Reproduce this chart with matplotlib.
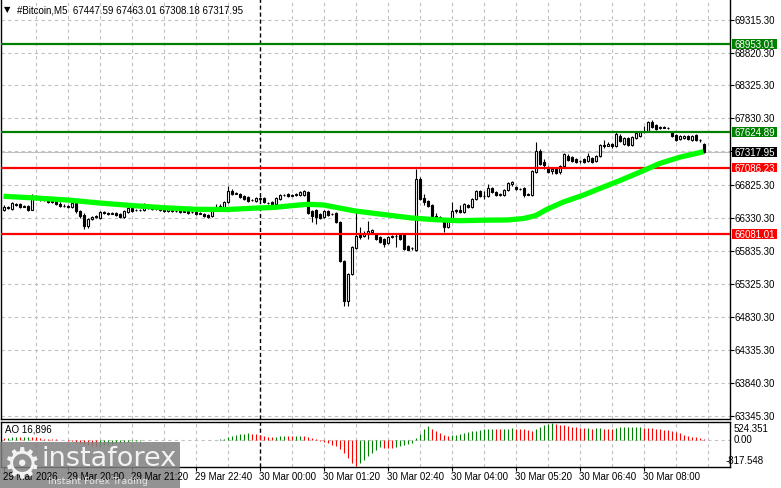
"""MT4-style #Bitcoin M5 chart: candles, MA, support/resistance levels, AO sub-window."""
import numpy as np
import matplotlib
matplotlib.use("Agg")
import matplotlib.pyplot as plt
from matplotlib.patches import Rectangle

W, H = 781, 489
FONT = "Liberation Sans"
FS = 7.0

# ---- data (5-min bars, 29 Mar 18:40 -> 30 Mar 09:15) ----
opens = [
    66446, 66491, 66461, 66537, 66537, 66491, 66507, 66446, 66657, 66627,
    66612, 66597, 66567, 66582, 66537, 66507, 66507, 66491, 66552, 66431,
    66371, 66205, 66311, 66341, 66326, 66416, 66401, 66386, 66401, 66386,
    66341, 66416, 66476, 66446, 66446, 66446, 66491, 66476, 66461, 66461,
    66461, 66431, 66446, 66431, 66431, 66416, 66446, 66416, 66416, 66386,
    66386, 66371, 66356, 66476, 66491, 66476, 66567, 66733, 66688, 66688,
    66657, 66642, 66597, 66582, 66615, 66627, 66552, 66567, 66537, 66612,
    66672, 66688, 66657, 66672, 66672, 66672, 66718, 66431, 66446, 66386,
    66341, 66431, 66386, 66401, 66265, 65677, 65075, 65481, 65873, 66069,
    66054, 66084, 66115, 66084, 66039, 66009, 65949, 66039, 66054, 66069,
    66084, 65904, 65873, 65843, 66914, 66627, 66582, 66522, 66356, 66341,
    66280, 66190, 66311, 66431, 66446, 66416, 66522, 66491, 66612, 66733,
    66657, 66657, 66778, 66718, 66672, 66672, 66748, 66838, 66793, 66763,
    66778, 66688, 66672, 67019, 67336, 67170, 67095, 67034, 67064, 67019,
    67110, 67260, 67245, 67215, 67185, 67215, 67185, 67230, 67185, 67260,
    67426, 67411, 67441, 67411, 67562, 67441, 67532, 67426, 67532, 67562,
    67622, 67637, 67773, 67728, 67683, 67698, 67683, 67622, 67577, 67517,
    67532, 67562, 67502, 67577, 67502, 67447.59]
highs = [
    66522, 66507, 66567, 66552, 66552, 66522, 66522, 66688, 66672, 66642,
    66627, 66612, 66597, 66597, 66567, 66537, 66522, 66582, 66567, 66446,
    66401, 66326, 66356, 66371, 66431, 66431, 66416, 66416, 66416, 66401,
    66446, 66491, 66491, 66461, 66461, 66552, 66507, 66491, 66476, 66476,
    66476, 66476, 66461, 66446, 66446, 66446, 66461, 66431, 66431, 66416,
    66401, 66386, 66476, 66537, 66537, 66582, 66808, 66763, 66718, 66703,
    66672, 66657, 66612, 66642, 66642, 66642, 66567, 66582, 66642, 66688,
    66688, 66703, 66688, 66703, 66733, 66748, 66733, 66446, 66461, 66401,
    66446, 66446, 66401, 66416, 66280, 65692, 65496, 65904, 66416, 66190,
    66130, 66280, 66160, 66100, 66054, 66024, 66054, 66069, 66084, 66084,
    66100, 65919, 65888, 67064, 66944, 66688, 66597, 66537, 66401, 66356,
    66311, 66326, 66567, 66461, 66522, 66552, 66537, 66627, 66748, 66748,
    66733, 66838, 66793, 66733, 66703, 66763, 66868, 66884, 66808, 66778,
    66793, 66703, 67049, 67472, 67366, 67215, 67110, 67080, 67080, 67125,
    67306, 67291, 67260, 67230, 67200, 67230, 67306, 67245, 67276, 67441,
    67502, 67472, 67456, 67622, 67592, 67547, 67547, 67562, 67622, 67637,
    67713, 67788, 67803, 67743, 67713, 67713, 67698, 67637, 67592, 67577,
    67577, 67577, 67577, 67592, 67517, 67463.01]
lows = [
    66431, 66461, 66446, 66507, 66476, 66491, 66431, 66446, 66597, 66582,
    66582, 66552, 66552, 66522, 66491, 66491, 66476, 66476, 66401, 66326,
    66160, 66175, 66295, 66326, 66311, 66386, 66371, 66386, 66356, 66326,
    66326, 66401, 66416, 66431, 66431, 66431, 66461, 66446, 66446, 66431,
    66416, 66416, 66416, 66416, 66401, 66416, 66386, 66401, 66371, 66386,
    66341, 66326, 66341, 66461, 66476, 66461, 66552, 66672, 66688, 66627,
    66597, 66567, 66582, 66567, 66597, 66552, 66537, 66522, 66522, 66597,
    66657, 66642, 66657, 66657, 66657, 66657, 66386, 66265, 66235, 66311,
    66326, 66356, 66371, 66250, 65662, 64999, 64999, 65466, 65858, 66009,
    66039, 66009, 66100, 65994, 65949, 65888, 65934, 66024, 65888, 65994,
    65843, 65843, 65843, 65828, 66597, 66522, 66491, 66341, 66311, 66295,
    66115, 66175, 66295, 66401, 66401, 66401, 66476, 66476, 66597, 66642,
    66612, 66642, 66703, 66657, 66657, 66657, 66733, 66808, 66748, 66748,
    66642, 66672, 66657, 67004, 67125, 67064, 67004, 66989, 66989, 66989,
    67095, 67185, 67170, 67155, 67155, 67155, 67170, 67155, 67170, 67245,
    67381, 67411, 67381, 67396, 67472, 67426, 67411, 67411, 67517, 67547,
    67607, 67622, 67683, 67652, 67668, 67683, 67668, 67547, 67487, 67502,
    67517, 67502, 67487, 67487, 67472, 67308.18]
closes = [
    66491, 66476, 66552, 66522, 66491, 66507, 66446, 66657, 66627, 66612,
    66597, 66567, 66582, 66537, 66507, 66500, 66491, 66552, 66431, 66356,
    66205, 66311, 66341, 66356, 66416, 66401, 66386, 66401, 66371, 66341,
    66431, 66476, 66431, 66440, 66450, 66491, 66476, 66461, 66455, 66446,
    66431, 66461, 66431, 66425, 66416, 66431, 66401, 66410, 66386, 66401,
    66356, 66341, 66461, 66491, 66507, 66567, 66733, 66688, 66703, 66642,
    66612, 66582, 66590, 66627, 66630, 66567, 66545, 66537, 66627, 66672,
    66668, 66657, 66672, 66688, 66718, 66733, 66401, 66356, 66341, 66326,
    66431, 66371, 66380, 66265, 65677, 65075, 65481, 65888, 66054, 66039,
    66084, 66130, 66145, 66009, 65964, 65934, 66039, 66054, 66048, 66009,
    65858, 65850, 65868, 66914, 66612, 66567, 66507, 66356, 66341, 66326,
    66190, 66311, 66431, 66446, 66416, 66537, 66491, 66612, 66733, 66657,
    66650, 66778, 66718, 66672, 66688, 66748, 66853, 66868, 66763, 66758,
    66672, 66680, 67034, 67336, 67140, 67125, 67019, 67064, 67004, 67110,
    67291, 67200, 67185, 67170, 67180, 67170, 67260, 67170, 67260, 67426,
    67411, 67441, 67411, 67592, 67487, 67532, 67426, 67547, 67607, 67622,
    67615, 67773, 67698, 67668, 67698, 67690, 67676, 67562, 67502, 67562,
    67565, 67517, 67562, 67502, 67495, 67317.95]

# moving average (green line), read at these bar positions
ma_idx = [0, 8, 16, 24, 32, 40, 48, 56, 62, 68, 72, 76, 80, 84, 88, 96, 102, 108,
          114, 120, 126, 130, 133, 136, 140, 145, 150, 154, 159, 164, 169, 175]
ma_vals = [66653, 66627, 66597, 66552, 66514, 66481, 66457, 66454, 66472, 66487,
           66511, 66532, 66522, 66476, 66431, 66371, 66326, 66300, 66285, 66293,
           66296, 66318, 66361, 66461, 66567, 66672, 66793, 66888, 67015, 67147,
           67241, 67325]

ao = [
    60, 70, 75, 80, 78, 82, 85, 80, 76, 60,
    40, 20, 15, 10, 5, -10, -30, -50, -70, -100,
    -140, -170, -185, -195, -190, -170, -150, -130, -110, -95,
    -80, -65, -50, -40, -30, -20, -12, -8, -5, -3,
    -2, -4, -6, -5, -8, -10, -12, -10, -8, -5,
    -10, -12, -6, 5, 15, 40, 80, 120, 150, 175,
    195, 210, 195, 170, 140, 110, 100, 95, 100, 110,
    120, 115, 110, 120, 130, 125, 100, 60, 20, -30,
    -70, -110, -150, -200, -280, -420, -580, -720, -817.548, -740,
    -620, -500, -400, -310, -240, -250, -258, -262, -235, -205,
    -175, -145, -110, 60, 170, 330, 430, 345, 270, 205,
    135, 110, 140, 160, 190, 215, 240, 265, 290, 310,
    330, 335, 340, 335, 330, 335, 345, 355, 345, 340,
    330, 300, 280, 330, 400, 460, 500, 524.351, 500, 475,
    450, 430, 410, 390, 370, 355, 360, 350, 355, 360,
    350, 345, 340, 365, 385, 395, 400, 405, 410, 415,
    380, 370, 360, 345, 330, 315, 300, 290, 250, 200,
    160, 130, 100, 75, 50, 16.896]

resistance = [68953.01, 67624.89]
support = [67086.23, 66081.01]
bid = 67317.95
grid_prices = [69315.30, 68820.30, 68325.30, 67830.30, 67335.30, 66825.30, 66330.30,
               65835.30, 65325.30, 64830.30, 64335.30, 63840.30, 63345.30]
time_labels = ["29 Mar 2026", "29 Mar 20:00", "29 Mar 21:20", "29 Mar 22:40",
               "30 Mar 00:00", "30 Mar 01:20", "30 Mar 02:40", "30 Mar 04:00",
               "30 Mar 05:20", "30 Mar 06:40", "30 Mar 08:00"]
title = "#Bitcoin,M5  67447.59 67463.01 67308.18 67317.95"
ao_title = "AO 16,896"

# ---- layout helpers (pixel -> figure fraction) ----
def fx(px): return px / W
def fy(py): return 1 - py / H

GRID = "#c0c0c0"
DASH = (0, (3, 3))
PX_PRICE = 15.076          # price units per pixel in main window

fig = plt.figure(figsize=(W / 100, H / 100), dpi=100)
ax = fig.add_axes([fx(0.5), fy(420), fx(730) - fx(0.5), fy(0) - fy(420)])
aox = fig.add_axes([fx(0.5), fy(467.5), fx(730) - fx(0.5), fy(422.5) - fy(467.5)])
XL = (-0.75, 181.625)

o, h, l, c = (np.array(a, float) for a in (opens, highs, lows, closes))
idx = np.arange(len(c))

# main window
ax.set_xlim(*XL); ax.set_ylim(63295.5, 69627.4)
for p in grid_prices:
    ax.axhline(p, color=GRID, lw=0.8, ls=DASH, zorder=1)
for k in range(8, 182, 8):
    if k != 64:
        ax.axvline(k, color=GRID, lw=0.8, ls=DASH, zorder=1)
        aox.axvline(k, color=GRID, lw=0.8, ls=DASH, zorder=1)
for a in (ax, aox):
    a.axvline(64, color="black", lw=1.0, ls=(0, (3, 2)), zorder=1.2)
ax.axhline(bid, color=GRID, lw=0.8, zorder=1.5)

up = c >= o
ax.vlines(idx, l, h, color="black", lw=0.8, zorder=3)
ax.bar(idx, np.abs(c - o), bottom=np.minimum(o, c), width=0.5,
       color=np.where(up, "white", "black"), edgecolor="black", lw=0.8, zorder=3.2)

for p in resistance:
    ax.axhline(p, color="#008000", lw=1.6, zorder=4)
for p in support:
    ax.axhline(p, color="#ff0000", lw=1.6, zorder=4)
ax.plot(ma_idx, ma_vals, color="#00ff00", lw=3.8, solid_capstyle="butt", zorder=5)

ax.set_xticks([])
ax.yaxis.tick_right()
ax.set_yticks(grid_prices)
ax.tick_params(axis="y", length=3, width=0.8, labelright=False)
ax.spines["top"].set_visible(False)
for s in ("left", "right", "bottom"):
    ax.spines[s].set_linewidth(1.0)

ytr = ax.get_yaxis_transform()
lx = (735 - 0.5) / 729.5
for p in grid_prices:
    ax.text(lx, p, f"{p:.2f}", transform=ytr, fontsize=FS, family=FONT,
            va="center", ha="left", clip_on=False, zorder=6)
bx0, bw, bh = (731.5 - 0.5) / 729.5, 45.5 / 729.5, 9.8 * PX_PRICE
for p, col in [(resistance[0], "#008000"), (resistance[1], "#008000"),
               (bid, "black"), (support[0], "#ff0000"), (support[1], "#ff0000")]:
    ax.add_patch(Rectangle((bx0, p - bh / 2), bw, bh, transform=ytr, facecolor=col,
                           edgecolor="none", clip_on=False, zorder=7))
    ax.text(lx, p, f"{p:.2f}", transform=ytr, fontsize=FS, family=FONT, color="white",
            va="center", ha="left", clip_on=False, zorder=8)

# AO window
aox.set_xlim(*XL); aox.set_ylim(-833.7, 571.2)
aov = np.array(ao, float)
ao_col = ["#ff0000"] + ["#008000" if aov[i] > aov[i - 1] else "#ff0000" for i in range(1, len(aov))]
aox.axhline(0, color=GRID, lw=0.8, ls=DASH, zorder=1)
aox.vlines(np.arange(len(aov)), 0, aov, colors=ao_col, lw=0.8, zorder=3)
tick_idx = list(range(0, 176, 16))
aox.set_xticks(tick_idx)
aox.set_yticks([])
aox.tick_params(axis="x", length=3, width=0.8, labelbottom=False)
for s in aox.spines.values():
    s.set_linewidth(1.0)

# pixel overlay for free text + watermark
ov = fig.add_axes([0, 0, 1, 1], zorder=10)
ov.set_xlim(0, W); ov.set_ylim(H, 0); ov.axis("off")
ov.text(7, 10, "▼", fontsize=6, family="DejaVu Sans", ha="center", va="center")
ov.text(17, 10.5, title, fontsize=FS, family=FONT, ha="left", va="center")
ov.text(5, 430, ao_title, fontsize=FS, family=FONT, ha="left", va="center")
for s, y, x in (("524.351", 429, 734), ("0.00", 440, 734), ("-817.548", 461.5, 726)):
    ov.text(x, y, s, fontsize=FS, family=FONT, ha="left", va="center")
for k, s in zip(tick_idx, time_labels):
    ov.text(3.0 + 4 * k, 477.5, s, fontsize=FS, family=FONT, ha="left", va="center")

# instaforex watermark (sits over the first time labels, as in the source)
ov.add_patch(Rectangle((0, 443), 180, 46, facecolor="#808080", edgecolor="none", alpha=0.85))
ov.text(22, 465, "⚙", fontsize=31, family="DejaVu Sans", color="#f2f2f2", ha="center", va="center")
ov.text(41, 459, "instaforex", fontsize=19.5, family="DejaVu Sans", color="#f2f2f2",
        ha="left", va="center")
ov.text(48, 481, "Instant Forex Trading", fontsize=6.8, family="DejaVu Sans",
        color="#e6e6e6", ha="left", va="center")

fig.savefig("out.png", dpi=100)
